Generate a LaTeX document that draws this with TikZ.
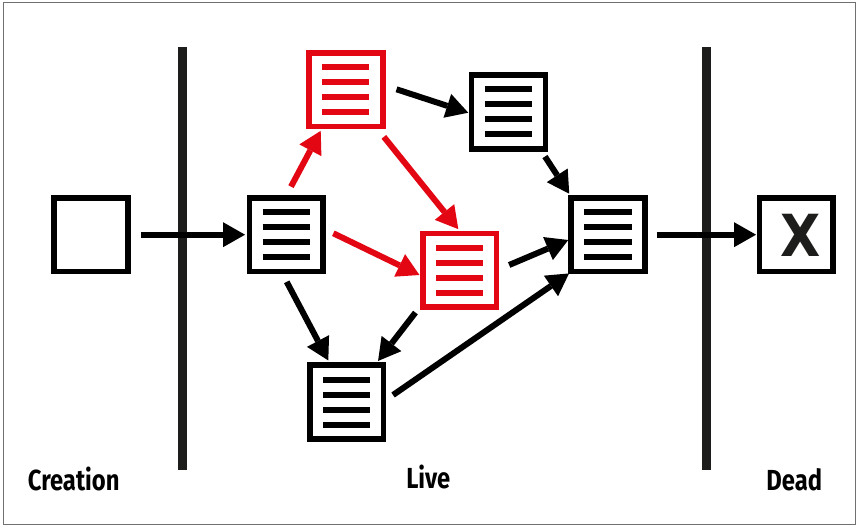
\documentclass[tikz,border=0pt]{standalone}
\usepackage{fontspec}
\usetikzlibrary{arrows.meta}
\newfontfamily\lblfont{Fira Sans}[FakeStretch=0.82]
\newfontfamily\xfont{DejaVu Sans}[FakeStretch=0.9]
\definecolor{ored}{HTML}{E30613}
\definecolor{dline}{HTML}{1D1D1B}
\definecolor{framec}{HTML}{707070}
\begin{document}
\begin{tikzpicture}[x=1pt,y=-1pt,
  box/.style={draw=#1, line width=5.7pt, minimum size=73.8pt, inner sep=0pt, fill=white},
  box/.default=black,
  doc/.style={box=#1, path picture={\foreach \dy in {-22.5,-7.5,7.5,22.5}{\draw[#1, line width=5.9pt] ([shift={(-23.6pt,\dy pt)}]path picture bounding box.center) -- ++(47.2pt,0pt);}}},
  doc/.default=black,
  arr/.style={line width=6pt, color=black, -{Triangle[length=22pt,width=25pt,line width=0pt]}},
  redarr/.style={arr, color=ored},
  phase/.style={line width=9.3pt, color=dline},
  lbl/.style={font=\lblfont\bfseries\fontsize{29}{30}\selectfont, text=black, inner sep=0pt, anchor=base}
]
\useasboundingbox (0,0) rectangle (857,526);
\draw[framec, line width=1pt] (3.5,3) rectangle (855.8,524.8);
% phase separators
\coordinate (s1t) at (182.3,47); \coordinate (s1b) at (182.3,470);
\coordinate (s2t) at (706.3,47); \coordinate (s2b) at (706.3,470);
\draw[phase] (s1t) -- (s1b);
\draw[phase] (s2t) -- (s2b);
% boxes
\node[box] (cre) at (91.2,234.7) {};
\node[doc] (a) at (286.3,234.7) {};
\node[doc=ored] (r1) at (345.8,89.7) {};
\node[doc] (t) at (508.5,111.8) {};
\node[doc=ored] (r2) at (459.7,270.3) {};
\node[doc] (b) at (346.7,402.2) {};
\node[doc] (rt) at (608,234.7) {};
\node[box] (x) at (796.3,234.7) {};
\node[font=\xfont\bfseries\fontsize{58}{58}\selectfont, text=dline, inner sep=0pt] (xl) at (800.5,235.5) {X};
% connectors
\draw[arr] ([xshift=10]cre.east) -- ([xshift=-1.5]a.west);
\draw[redarr] ([shift={(4.7,-8.3)}]a.north) -- ([shift={(-25.1,1.4)}]r1.south);
\draw[redarr] ([shift={(-1.7,7.4)}]r1.south east) -- ([shift={(-1.4,-1.4)}]r2.north);
\draw[redarr] ([shift={(7.3,-1.4)}]a.east) -- ([shift={(-0.5,4.7)}]r2.west);
\draw[arr] ([shift={(11,-0.4)}]r1.east) -- ([shift={(-0.5,0.9)}]t.west);
\draw[arr] ([shift={(-3.3,5)}]t.south east) -- ([shift={(1,-1.2)}]rt.north west);
\draw[arr] ([shift={(9.7,-5.3)}]r2.east) -- ([shift={(0,5.3)}]rt.west);
\draw[arr] ([shift={(6.6,-7.2)}]b.east) -- ([shift={(0.8,-1)}]rt.south west);
\draw[arr] ([shift={(0.4,7.4)}]a.south) -- ([shift={(-18.4,-2)}]b.north);
\draw[arr] ([shift={(-4.5,2.5)}]r2.south west) -- ([shift={(-8.4,-1.5)}]b.north east);
\draw[arr] ([xshift=9]rt.east) -- ([xshift=-0.5]x.west);
% labels
\node[lbl] (lcre) at (73.7,490) {Creation};
\node[lbl] (llive) at (428.3,488.8) {Live};
\node[lbl] (ldead) at (794.3,490) {Dead};
\end{tikzpicture}
\end{document}
